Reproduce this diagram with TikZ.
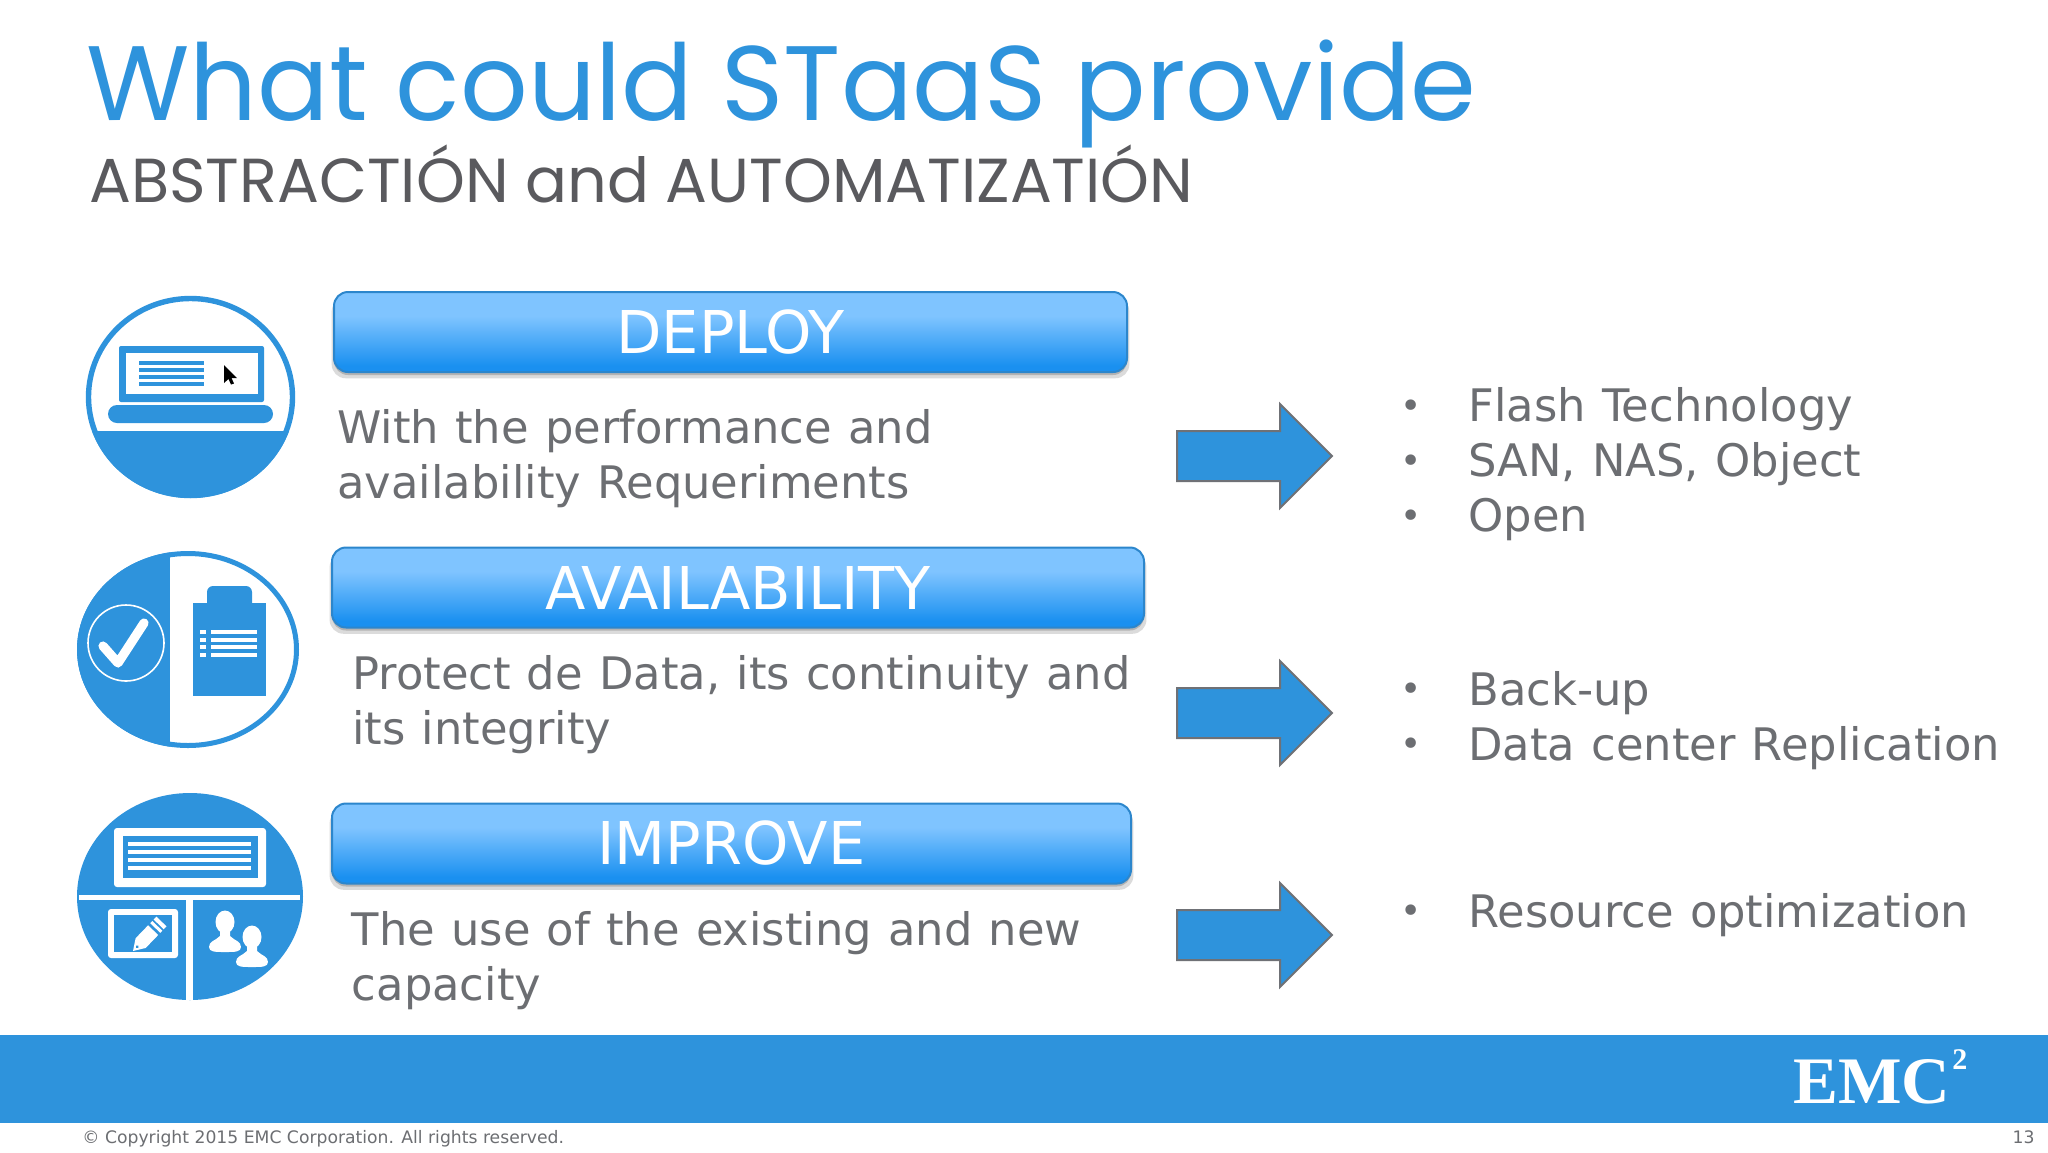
\documentclass[tikz,border=0pt]{standalone}
\usepackage{graphicx}
\usepackage{fontspec}
\setmainfont{DejaVu Sans}
\newfontfamily\bodyfam[WordSpace=1.14]{DejaVu Sans}
\newfontfamily\titlefont{Poppins}
\newfontfamily\logofont{Liberation Serif}
\usetikzlibrary{shadows}
\definecolor{emcblue}{HTML}{2E93DC}
\definecolor{bodygray}{HTML}{6C6E72}
\definecolor{subgray}{HTML}{5A5A5E}
\definecolor{arrowedge}{HTML}{6F7176}
\definecolor{barhi}{HTML}{7FC4FF}
\definecolor{barlo}{HTML}{1A90F0}
\definecolor{baredge}{HTML}{2C86CC}
\pgfdeclareverticalshading{barshade}{100bp}{color(0bp)=(barlo); color(29bp)=(barlo); color(60bp)=(barhi); color(100bp)=(barhi)}
\newcommand{\barlabel}[1]{\raisebox{-0.7pt}{#1}}
\tikzset{
  x=0.5pt,y=-0.5pt,
  barbox/.style={draw=baredge,line width=1pt,rounded corners=7pt,shading=barshade,
    inner sep=0pt,text=white,font=\fontsize{29.5}{33}\selectfont,
    general shadow={fill=black,opacity=.14,shadow yshift=-3pt,shadow scale=1.006},
    general shadow={fill=black,opacity=.18,shadow yshift=-1.5pt}},
  bodytext/.style={anchor=base west,inner sep=0pt,text=bodygray,font=\bodyfam\fontsize{22.4}{27}\selectfont},
  bullet/.style={anchor=base,inner sep=0pt,text=bodygray,font=\fontsize{18}{22}\selectfont},
  foot/.style={inner sep=0pt,text=bodygray,font=\fontsize{8.6}{10}\selectfont},
  bigarrow/.style={fill=emcblue,draw=arrowedge,line width=1pt,line join=miter},
  iconfill/.style={fill=emcblue,draw=none},
  whitefill/.style={fill=white,draw=none},
}
\begin{document}
\begin{tikzpicture}
\useasboundingbox (0,0) rectangle (2048,1152);
\fill[white] (0,0) rectangle (2048,1152);
% title
\node[anchor=base west,inner sep=0pt,text=emcblue] (title) at (86,120)
  {\resizebox{695pt}{!}{\titlefont\fontsize{55}{60}\selectfont What could STaaS provide}};
\node[anchor=base west,inner sep=0pt,text=subgray] (subtitle) at (89,202)
  {\resizebox{552pt}{!}{\titlefont\fontsize{28}{32}\selectfont ABSTRACTIÓN and AUTOMATIZATIÓN}};
% bars
\node[barbox,minimum width=396.5pt,minimum height=40pt] (deploy) at (730.5,332) {\barlabel{DEPLOY}};
\node[barbox,minimum width=406pt,minimum height=40pt] (avail) at (738,587.5) {\barlabel{AVAILABILITY}};
\node[barbox,minimum width=399.5pt,minimum height=40pt] (improve) at (731.5,843.5) {\barlabel{IMPROVE}};
% left texts
\node[bodytext] (d1) at (337,443) {With the performance and};
\node[bodytext] (d2) at (337,498) {availability Requeriments};
\node[bodytext] (a1) at (352,689) {Protect de Data, its continuity and};
\node[bodytext] (a2) at (352,744) {its integrity};
\node[bodytext] (i1) at (351.5,945) {The use of the existing and new};
\node[bodytext] (i2) at (351.5,1000) {capacity};
% arrows
\foreach \ay in {456,713,935}
  \draw[bigarrow] (1177,\ay-25) -- (1280,\ay-25) -- (1280,\ay-52) -- (1332,\ay) -- (1280,\ay+52) -- (1280,\ay+25) -- (1177,\ay+25) -- cycle;
% right lists
\node[bullet] (b1) at (1411,418) {•};
\node[bullet] (b2) at (1411,473) {•};
\node[bullet] (b3) at (1411,528) {•};
\node[bullet] (b4) at (1411,701) {•};
\node[bullet] (b5) at (1411,756) {•};
\node[bullet] (b6) at (1411,923) {•};
\node[bodytext] (r1) at (1468,421) {Flash Technology};
\node[bodytext] (r2) at (1468,476) {SAN, NAS, Object};
\node[bodytext] (r3) at (1468,531) {Open};
\node[bodytext] (r4) at (1468,705) {Back-up};
\node[bodytext] (r5) at (1468,760) {Data center Replication};
\node[bodytext] (r6) at (1468,927) {Resource optimization};
% band
\fill[emcblue] (0,1035) rectangle (2048,1123);
\node[anchor=base west,inner sep=0pt,text=white] (emc) at (1793,1103)
  {\resizebox{78.5pt}{22pt}{\logofont\bfseries EMC}};
\node[anchor=base west,inner sep=0pt,text=white] (two) at (1952,1069)
  {\logofont\bfseries\fontsize{15}{16}\selectfont 2};
\node[foot,anchor=base west] (copy) at (82,1143) {© Copyright 2015 EMC Corporation. All rights reserved.};
\node[foot,anchor=base east] (page) at (2035,1143) {13};
% icon 1: laptop
\begin{scope}
  \clip (190.5,397) ellipse [x radius=104.5,y radius=101];
  \fill[emcblue] (80,431) rectangle (300,505);
\end{scope}
\draw[emcblue,line width=2.7pt] (190.5,397) ellipse [x radius=102,y radius=98.5];
\fill[iconfill,rounded corners=1pt] (119,346) rectangle (264,402);
\fill[whitefill] (126,353) rectangle (258,394);
\foreach \ly in {363,370,377,384} \fill[iconfill] (139,\ly-2) rectangle (204,\ly+2);
\fill[iconfill,rounded corners=4.5pt] (108,405) rectangle (273,423);
\fill[black] (224,365) -- (237,378) -- (231.5,378) -- (234,383.5) -- (231,384.5) -- (228.5,379) -- (224,383) -- cycle;
% icon 2: clipboard
\begin{scope}
  \clip (188,649.5) ellipse [x radius=111,y radius=98.5];
  \fill[emcblue] (70,545) rectangle (170,755);
\end{scope}
\draw[emcblue,line width=2.5pt] (188,649.5) ellipse [x radius=108.5,y radius=96];
\draw[white,line width=0.8pt] (126,643) circle [radius=38];
\draw[white,line width=4.6pt,line cap=round,line join=round] (103,646) -- (118,663) -- (144,623);
\fill[iconfill] (193,603) rectangle (266,696);
\fill[iconfill,rounded corners=3pt] (207,586) rectangle (252,610);
\foreach \ly in {632,640,647,655} {
  \fill[whitefill] (211,\ly-2) rectangle (257,\ly+2);
  \fill[whitefill] (200,\ly-2) rectangle (206,\ly+2);
}
% icon 3: board
\begin{scope}
  \clip (190,896.5) ellipse [x radius=113,y radius=103.5];
  \fill[emcblue] (70,785) rectangle (310,1005);
  \fill[whitefill] (79,894.5) rectangle (300,899.5);
  \fill[whitefill] (186,897) rectangle (193,1005);
\end{scope}
\fill[whitefill,rounded corners=1.5pt] (114,828) rectangle (266,887);
\fill[iconfill] (123,836) rectangle (258,878);
\foreach \ly in {844,852,860,868} \fill[whitefill] (128,\ly-2) rectangle (251,\ly+2);
\fill[whitefill,rounded corners=1.5pt] (108,909) rectangle (178,958);
\fill[iconfill] (114,915) rectangle (172,952);
\begin{scope}[shift={(133,951)},rotate=46]
  \fill[whitefill] (0,0) -- (11,-7) -- (29,-7) -- (29,7) -- (11,7) -- cycle;
  \fill[whitefill] (32,-7) rectangle (35,7);
  \fill[whitefill] (37,-7) rectangle (41,7);
  \fill[iconfill] (6,0) circle [radius=1.6];
\end{scope}
\foreach \px/\py in {225/922,252/937} {
  \fill[whitefill] (\px,\py) ellipse [x radius=9.5,y radius=11.5];
  \fill[whitefill] (\px-5,\py+6) -- (\px+5,\py+6) -- (\px+5,\py+14) .. controls (\px+10,\py+19) and (\px+16,\py+19) .. (\px+16,\py+25) .. controls (\px+16,\py+30) and (\px+10,\py+30) .. (\px,\py+30) .. controls (\px-10,\py+30) and (\px-16,\py+30) .. (\px-16,\py+25) .. controls (\px-16,\py+19) and (\px-10,\py+19) .. (\px-5,\py+14) -- cycle;
}
\end{tikzpicture}
\end{document}
